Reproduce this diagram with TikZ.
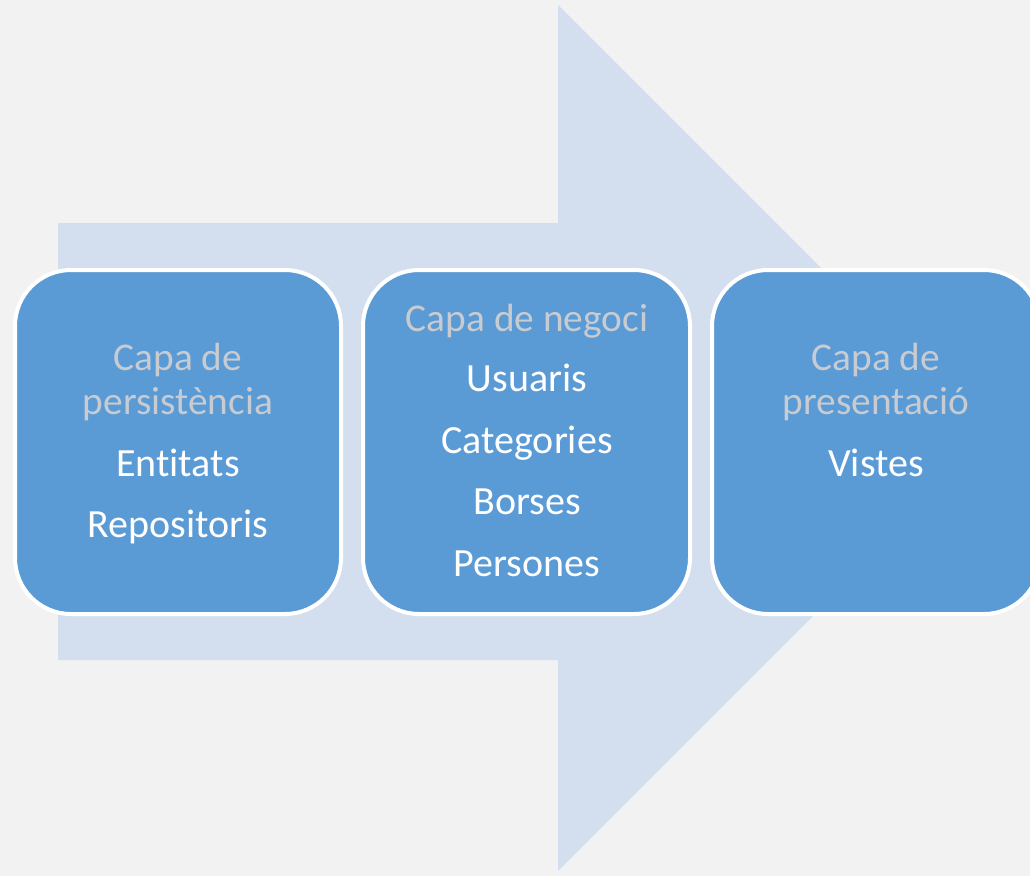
\documentclass[tikz,border=0pt]{standalone}
\usepackage{fontspec}
\setmainfont{Carlito}[Ligatures=CommonOff]
\definecolor{bg}{HTML}{F2F2F2}
\definecolor{arrowblue}{HTML}{D3DFEF}
\definecolor{boxblue}{HTML}{5B9BD5}
\definecolor{headgray}{HTML}{C8CBD0}
\begin{document}
\begin{tikzpicture}[x=0.75pt,y=-0.75pt,
  layerbox/.style={fill=boxblue,draw=white,line width=3pt,rounded corners=42pt},
  headtxt/.style={anchor=base,text=headgray,font=\fontsize{29.5}{31}\selectfont,inner sep=0pt},
  itemtxt/.style={anchor=base,text=white,font=\fontsize{30}{32}\selectfont,inner sep=0pt}]
\useasboundingbox (0,0) rectangle (1030,876);
\fill[bg] (0,0) rectangle (1030,876);
\fill[arrowblue] (58,223) -- (558,223) -- (558,5) -- (991,438) -- (558,871) -- (558,660) -- (58,660) -- cycle;
\begin{scope}
\clip (0,0) rectangle (1030,876);
\draw[layerbox] (15,270) rectangle (341,614);
\draw[layerbox] (363,270) rectangle (690,614);
\draw[layerbox] (712,270) rectangle (1040,614);
\end{scope}
% box 1
\node[headtxt] (h1a) at (178,370) {Capa de};
\node[headtxt] (h1b) at (178,414) {persistència};
\node[itemtxt] (i1a) at (178,476) {Entitats};
\node[itemtxt] (i1b) at (178,537) {Repositoris};
% box 2
\node[headtxt] (h2a) at (527,331) {Capa de negoci};
\node[itemtxt] (i2a) at (527,391) {Usuaris};
\node[itemtxt] (i2b) at (527,453) {Categories};
\node[itemtxt] (i2c) at (527,514) {Borses};
\node[itemtxt] (i2d) at (527,576) {Persones};
% box 3
\node[headtxt] (h3a) at (876,370) {Capa de};
\node[headtxt] (h3b) at (876,414) {presentació};
\node[itemtxt] (i3a) at (876,476) {Vistes};
\end{tikzpicture}
\end{document}
